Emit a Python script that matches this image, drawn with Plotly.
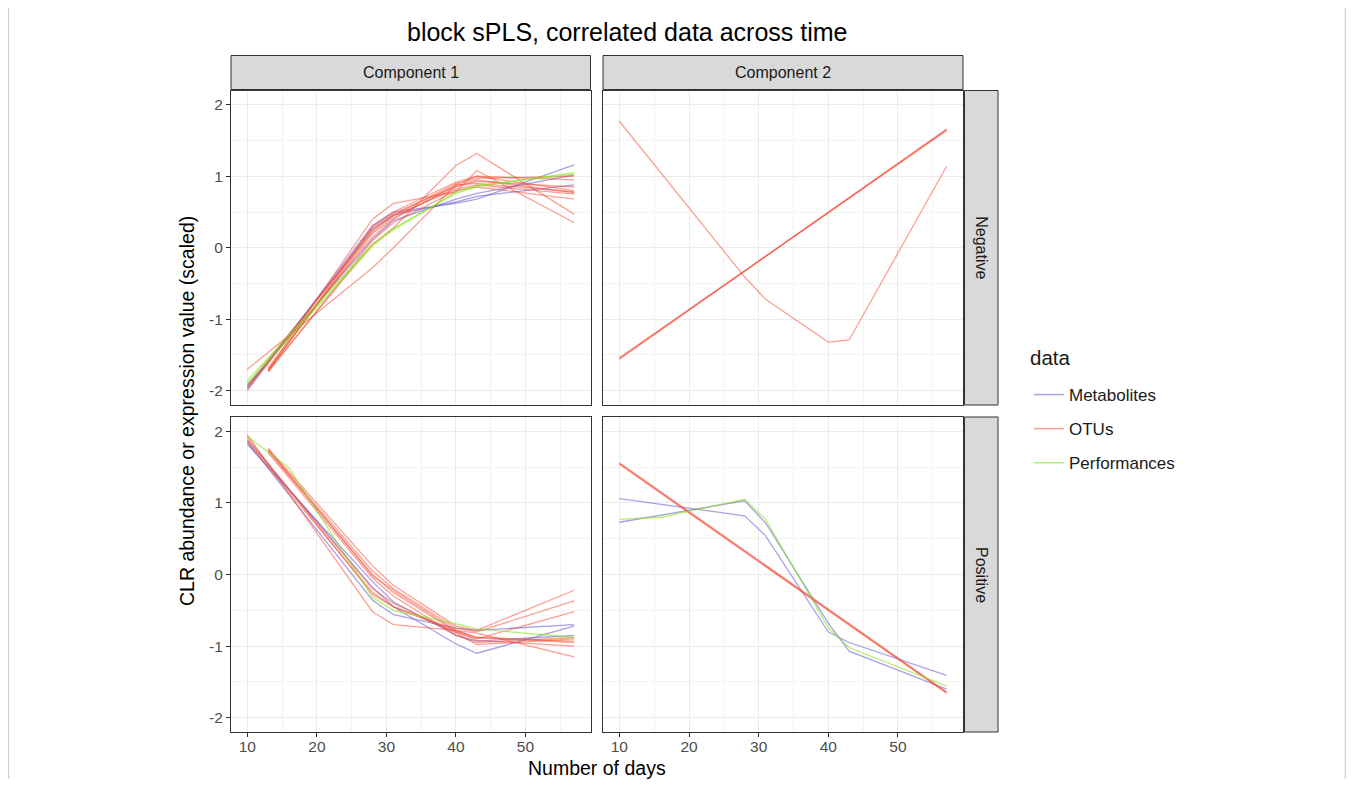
import plotly.graph_objects as go

# ---------------- data ----------------
days = [10, 13, 16, 28, 31, 40, 43, 57]
components = ["Component 1", "Component 2"]
contribs = ["Negative", "Positive"]
blocks = ["Metabolites", "OTUs", "Performances"]

# Component 1 / Negative
c1_neg_metabolites = [
    [-1.98, None, None, 0.31, 0.50, 0.62, 0.68, 1.16],
    [-1.96, None, None, 0.26, 0.46, 0.64, 0.72, 0.88],
    [-1.93, None, None, 0.12, 0.38, 0.68, 0.76, 1.02],
]
c1_neg_otus = [
    [-1.70, None, None, -0.28, 0.00, 0.88, 1.00, 0.80],
    [None, -1.72, None, 0.05, 0.28, 1.15, 1.32, 0.47],
    [None, -1.70, None, 0.40, 0.62, 0.78, 1.08, 0.35],
    [None, -1.73, None, 0.30, 0.50, 0.92, 1.00, 0.95],
    [None, -1.72, None, 0.25, 0.45, 0.90, 0.97, 1.00],
    [None, -1.68, None, 0.20, 0.42, 0.85, 0.93, 0.85],
    [-1.95, None, None, 0.15, 0.40, 0.88, 0.90, 0.78],
    [-1.92, None, None, 0.22, 0.45, 0.82, 0.88, 0.75],
    [None, -1.74, None, 0.10, 0.35, 0.80, 0.85, 0.68],
    [-2.00, None, None, 0.28, 0.48, 0.86, 0.95, 0.77],
]
c1_neg_performances = [
    [-1.90, None, -1.26, 0.02, 0.27, 0.76, 0.86, 1.05],
    [-1.86, None, -1.22, 0.05, 0.25, 0.78, 0.87, 1.03],
]

# Component 2 / Negative
c2_neg_metabolites = []
c2_neg_otus = [
    [-1.55, None, None, None, None, None, None, 1.65],
    [-1.56, None, None, None, None, None, None, 1.66],
    [-1.54, None, None, None, None, None, None, 1.64],
    [1.77, None, None, -0.41, -0.72, -1.32, -1.29, 1.14],
]
c2_neg_performances = []

# Component 1 / Positive
c1_pos_metabolites = [
    [1.88, None, None, -0.18, -0.45, -0.97, -1.10, -0.72],
    [1.85, None, None, -0.36, -0.56, -0.75, -0.78, -0.70],
    [1.82, None, None, -0.10, -0.38, -0.85, -0.93, -0.85],
]
c1_pos_otus = [
    [1.95, None, None, -0.52, -0.70, -0.78, -0.88, -0.95],
    [1.92, None, None, -0.28, -0.45, -0.78, -0.82, -1.15],
    [None, 1.76, None, 0.12, -0.15, -0.72, -0.78, -0.22],
    [None, 1.74, None, 0.05, -0.20, -0.75, -0.80, -0.37],
    [None, 1.72, None, 0.00, -0.25, -0.80, -0.90, -0.52],
    [None, 1.70, None, -0.05, -0.30, -0.85, -0.95, -0.88],
    [1.88, None, None, -0.20, -0.40, -0.82, -0.98, -0.90],
    [1.85, None, None, -0.25, -0.45, -0.80, -0.92, -1.00],
    [None, 1.75, None, -0.02, -0.22, -0.78, -0.88, -0.93],
]
c1_pos_performances = [
    [1.93, None, 1.49, -0.32, -0.50, -0.69, -0.76, -0.88],
]

# Component 2 / Positive
c2_pos_metabolites = [
    [1.06, None, None, 0.82, 0.54, -0.80, -0.95, -1.41],
    [0.73, None, None, 1.03, 0.72, -0.68, -1.07, -1.60],
]
c2_pos_otus = [
    [1.55, None, None, None, None, None, None, -1.65],
    [1.54, None, None, None, None, None, None, -1.66],
    [1.56, None, None, None, None, None, None, -1.64],
]
c2_pos_performances = [
    [0.77, None, 0.80, 1.05, 0.77, -0.74, -1.02, -1.56],
]

x_ticks = [10, 20, 30, 40, 50]
x_minor = [15, 25, 35, 45, 55]
y_ticks = [-2, -1, 0, 1, 2]
y_tick_text = ["-2", "-1", "0", "1", "2"]
y_minor = [-1.5, -0.5, 0.5, 1.5]

# ---------------- styling ----------------
OFF = 8  # default page body margin
W, H = 1354 - 2 * OFF, 787 - 2 * OFF
FONT = "Liberation Sans"
colors = {
    "Metabolites": "rgba(100,85,210,0.55)",
    "OTUs": "rgba(245,70,45,0.5)",
    "Performances": "rgba(130,230,20,0.6)",
}

def px_x(p):
    return (p - OFF) / W

def px_y(p):
    return 1 - (p - OFF) / H

col_dom = [[px_x(231), px_x(590.5)], [px_x(603), px_x(963)]]
row_dom = [[px_y(405), px_y(90.5)], [px_y(732), px_y(417)]]  # Negative (top), Positive (bottom)

panels = {
    (0, 0): (c1_neg_metabolites, c1_neg_otus, c1_neg_performances),
    (0, 1): (c2_neg_metabolites, c2_neg_otus, c2_neg_performances),
    (1, 0): (c1_pos_metabolites, c1_pos_otus, c1_pos_performances),
    (1, 1): (c2_pos_metabolites, c2_pos_otus, c2_pos_performances),
}

fig = go.Figure()

# legend entries in order
for b in blocks:
    fig.add_trace(go.Scatter(x=[None], y=[None], mode="lines", name=b, legendgroup=b,
                             line=dict(color=colors[b], width=1.5), showlegend=True,
                             xaxis="x", yaxis="y", hoverinfo="skip"))

for (r, c), series in panels.items():
    idx = r * 2 + c + 1
    xa = "x" if idx == 1 else f"x{idx}"
    ya = "y" if idx == 1 else f"y{idx}"
    for b, lines in zip(blocks, series):
        for vals in lines:
            fig.add_trace(go.Scatter(x=days, y=vals, mode="lines", name=b, legendgroup=b,
                                     showlegend=False, connectgaps=True,
                                     line=dict(color=colors[b], width=1.3),
                                     xaxis=xa, yaxis=ya))

layout = dict(
    width=W, height=H,
    margin=dict(l=0, r=0, t=0, b=0),
    paper_bgcolor="white", plot_bgcolor="white",
    font=dict(family=FONT, color="#4D4D4D", size=15),
    showlegend=True,
    legend=dict(x=px_x(1029), y=px_y(377), xanchor="left", yanchor="top",
                font=dict(size=17, color="#1A1A1A"), tracegroupgap=9,
                itemwidth=30, bgcolor="rgba(0,0,0,0)"),
)

for r in range(2):
    for c in range(2):
        idx = r * 2 + c + 1
        xk = "xaxis" if idx == 1 else f"xaxis{idx}"
        yk = "yaxis" if idx == 1 else f"yaxis{idx}"
        bottom = (r == 1)
        left = (c == 0)
        layout[xk] = dict(
            domain=col_dom[c], anchor="y" if idx == 1 else f"y{idx}",
            range=[7.65, 59.35], tickvals=x_ticks, showticklabels=bottom,
            ticks="outside" if bottom else "", ticklen=4, tickcolor="#333333",
            ticklabelstandoff=-4,
            showgrid=True, gridcolor="#EBEBEB", gridwidth=1.2, zeroline=False,
            minor=dict(tickvals=x_minor, showgrid=True, gridcolor="#F3F3F3", gridwidth=0.8, ticks=""),
            showline=True, mirror=True, linecolor="#333333", linewidth=1,
            tickfont=dict(size=15.5, color="#4D4D4D"), fixedrange=True,
        )
        layout[yk] = dict(
            domain=row_dom[r], anchor="x" if idx == 1 else f"x{idx}",
            range=[-2.2, 2.2], tickvals=y_ticks, ticktext=y_tick_text, showticklabels=left,
            ticks="outside" if left else "", ticklen=4, tickcolor="#333333",
            showgrid=True, gridcolor="#EBEBEB", gridwidth=1.2, zeroline=False,
            minor=dict(tickvals=y_minor, showgrid=True, gridcolor="#F3F3F3", gridwidth=0.8, ticks=""),
            showline=True, mirror=True, linecolor="#333333", linewidth=1,
            tickfont=dict(size=15.5, color="#4D4D4D"), fixedrange=True,
        )

shapes = []
annotations = []
strip_fill = "#D9D9D9"
# top strips
for c, name in enumerate(components):
    shapes.append(dict(type="rect", xref="paper", yref="paper",
                       x0=col_dom[c][0], x1=col_dom[c][1], y0=px_y(89.5), y1=px_y(55.5),
                       fillcolor=strip_fill, line=dict(color="#333333", width=1), layer="below"))
    annotations.append(dict(text=name, xref="paper", yref="paper", showarrow=False,
                            x=(col_dom[c][0] + col_dom[c][1]) / 2, y=px_y(72.5),
                            xanchor="center", yanchor="middle",
                            font=dict(size=16, color="#1A1A1A")))
# right strips
for r, name in enumerate(contribs):
    shapes.append(dict(type="rect", xref="paper", yref="paper",
                       x0=px_x(964.5), x1=px_x(998), y0=row_dom[r][0], y1=row_dom[r][1],
                       fillcolor=strip_fill, line=dict(color="#333333", width=1), layer="below"))
    annotations.append(dict(text=name, xref="paper", yref="paper", showarrow=False,
                            x=px_x(981.5), y=(row_dom[r][0] + row_dom[r][1]) / 2,
                            xanchor="center", yanchor="middle", textangle=90,
                            font=dict(size=16, color="#1A1A1A")))

# figure frame lines
shapes.append(dict(type="line", xref="paper", yref="paper", x0=0.0005, x1=0.0005, y0=0, y1=1,
                   line=dict(color="#C8C8C8", width=1)))
shapes.append(dict(type="line", xref="paper", yref="paper", x0=0.9995, x1=0.9995, y0=0, y1=1,
                   line=dict(color="#C8C8C8", width=1)))

annotations.append(dict(text="block sPLS, correlated data across time", xref="paper", yref="paper",
                        showarrow=False, x=px_x(627), y=px_y(32), xanchor="center", yanchor="middle",
                        font=dict(size=25, color="#000000")))
annotations.append(dict(text="Number of days", xref="paper", yref="paper", showarrow=False,
                        x=px_x(597), y=px_y(768), xanchor="center", yanchor="middle",
                        font=dict(size=19.5, color="#000000")))
annotations.append(dict(text="CLR abundance or expression value (scaled)", xref="paper", yref="paper",
                        showarrow=False, x=px_x(187), y=px_y(411), xanchor="center", yanchor="middle",
                        textangle=-90, font=dict(size=19.5, color="#000000")))
annotations.append(dict(text="data", xref="paper", yref="paper", showarrow=False,
                        x=px_x(1028), y=px_y(358), xanchor="left", yanchor="middle",
                        font=dict(size=20.5, color="#1A1A1A")))

layout["shapes"] = shapes
layout["annotations"] = annotations
fig.update_layout(**layout)
fig.write_html("out.html")
